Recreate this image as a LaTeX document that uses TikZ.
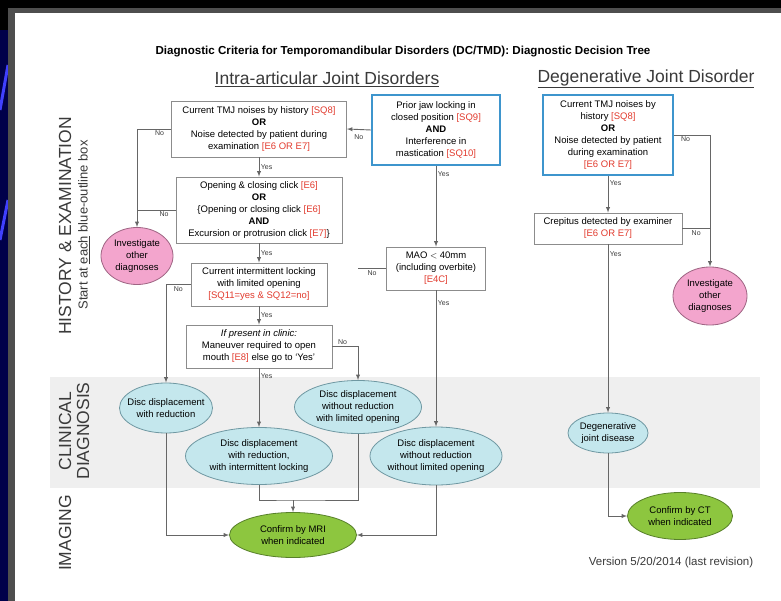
\documentclass[tikz,border=0pt]{standalone}
\usepackage{fontspec}
\setmainfont{Liberation Sans}
\usepackage{xcolor}
\usetikzlibrary{shapes.geometric, arrows}

\definecolor{boxgray}{HTML}{8C8C8C}
\definecolor{startblue}{HTML}{3E95CD}
\definecolor{diagfill}{HTML}{C4E7ED}
\definecolor{diagline}{HTML}{6F98A2}
\definecolor{pinkfill}{HTML}{F3A5CD}
\definecolor{pinkline}{HTML}{9E6483}
\definecolor{greenfill}{HTML}{8DC63F}
\definecolor{greenline}{HTML}{58802A}
\definecolor{bandgray}{HTML}{EFEFEF}
\definecolor{linegray}{HTML}{666666}
\definecolor{critred}{HTML}{E23B2E}
\definecolor{textgray}{HTML}{3A3A3A}
\definecolor{framegray}{HTML}{4E4E4E}
\definecolor{slidenavy}{HTML}{00004A}

\newcommand{\critref}[1]{\textcolor{critred}{[#1]}}

\tikzset{
	block/.style={draw=boxgray, line width=0.8pt, fill=white},
	startblock/.style={draw=startblue, line width=2.2pt, fill=white},
	diagnosis/.style={ellipse, draw=diagline, line width=0.8pt, fill=diagfill},
	otherdx/.style={ellipse, draw=pinkline, line width=0.8pt, fill=pinkfill},
	confirm/.style={ellipse, draw=greenline, line width=0.8pt, fill=greenfill},
	txt/.style={align=center, font=\fontsize{9.5}{12}\selectfont},
	answer/.style={font=\fontsize{7}{8}\selectfont, text=textgray, inner sep=1.5pt},
	heading/.style={font=\fontsize{17.5}{20}\selectfont, text=textgray},
	side/.style={rotate=90, font=\fontsize{17.5}{18}\selectfont, text=textgray, align=center},
	flow/.style={draw=linegray, line width=0.9pt, -latex},
	joinline/.style={draw=linegray, line width=0.9pt}
}

\begin{document}
\begin{tikzpicture}[x=1pt, y=-1pt]
		\useasboundingbox (0,0) rectangle (781,601);
		% slide around the diagram
		\fill[black] (0,0) rectangle (781,601);
		\fill[slidenavy] (0,30) rectangle (8,601);
		\begin{scope}
			\clip (0,30) rectangle (8,601);
			\draw[blue!75, line width=3pt] (0,110) -- (8,65);
			\draw[blue!75, line width=3pt] (0,240) -- (8,200);
		\end{scope}
		\fill[framegray] (8,8) rectangle (781,601);
		\fill[white] (15,13) rectangle (781,601);
		\fill[bandgray] (50,377) rectangle (760,488);
		
		\node[font=\bfseries\fontsize{11.6}{13}\selectfont] (title) at (403,52) {Diagnostic Criteria for Temporomandibular Disorders (DC/TMD): Diagnostic Decision Tree};
		\node[heading] (iajd) at (327,79) {\underline{Intra-articular Joint Disorders}};
		\node[heading] (djd) at (646,79) {\underline{Degenerative Joint Disorder}};
		
		\node[side] (histlbl) at (65,226) {HISTORY \& EXAMINATION};
		\node[side, font=\fontsize{13}{15}\selectfont] (startlbl) at (84,225) {Start at \underline{each} blue-outline box};
		\node[side] (cliniclbl) at (74,431) {CLINICAL\\DIAGNOSIS};
		\node[side] (imaginglbl) at (65,533) {IMAGING};
		
		% intra-articular joint disorders
		\node[block, minimum width=175, minimum height=56] (noise) at (259,129) {};
		\node[txt] (noise-t) at (noise) {Current TMJ noises by history \critref{SQ8}\\\textbf{OR}\\Noise detected by patient during\\examination \critref{E6 OR E7}};
		
		\node[startblock, minimum width=128, minimum height=70] (locking) at (436,130) {};
		\node[txt] (locking-t) at (locking) {Prior jaw locking in\\closed position \critref{SQ9}\\\textbf{AND}\\Interference in\\mastication \critref{SQ10}};
		
		\node[block, minimum width=166, minimum height=66] (click) at (259,210) {};
		\node[txt] (click-t) at (click) {Opening \& closing click \critref{E6}\\\textbf{OR}\\\{Opening or closing click \critref{E6}\\\textbf{AND}\\Excursion or protrusion click \critref{E7}\}};
		
		\node[otherdx, minimum width=72, minimum height=57] (invL) at (137,256) {};
		\node[txt] (invL-t) at (invL) {Investigate\\other\\diagnoses};
		
		\node[block, minimum width=136, minimum height=43] (intlock) at (259,284.5) {};
		\node[txt] (intlock-t) at (intlock) {Current intermittent locking\\with limited opening\\\critref{SQ11=yes \& SQ12=no}};
		
		\node[block, minimum width=99, minimum height=43] (mao) at (436,268.5) {};
		\node[txt] (mao-t) at (mao) {MAO $<$ 40mm\\(including overbite)\\\critref{E4C}};
		
		\node[block, minimum width=146, minimum height=43] (maneuver) at (259,346.5) {};
		\node[txt] (maneuver-t) at (maneuver) {\textit{If present in clinic:}\\Maneuver required to open\\mouth \critref{E8} else go to `Yes'};
		
		\node[diagnosis, minimum width=93, minimum height=50] (ddwr) at (166,408) {};
		\node[txt] (ddwr-t) at (ddwr) {Disc displacement\\with reduction};
		
		\node[diagnosis, minimum width=147, minimum height=57] (ddwril) at (259,456) {};
		\node[txt] (ddwril-t) at (ddwril) {Disc displacement\\with reduction,\\with intermittent locking};
		
		\node[diagnosis, minimum width=127, minimum height=53] (ddwolo) at (358,407) {};
		\node[txt] (ddwolo-t) at (ddwolo) {Disc displacement\\without reduction\\with limited opening};
		
		\node[diagnosis, minimum width=132, minimum height=58] (ddwonl) at (436,456) {};
		\node[txt] (ddwonl-t) at (ddwonl) {Disc displacement\\without reduction\\without limited opening};
		
		\node[confirm, minimum width=127, minimum height=45] (mri) at (293,535) {};
		\node[txt] (mri-t) at (mri) {Confirm by MRI\\when indicated};
		
		% degenerative joint disorder
		\node[startblock, minimum width=130, minimum height=80] (djdnoise) at (608,135) {};
		\node[txt] (djdnoise-t) at (djdnoise) {Current TMJ noises by\\history \critref{SQ8}\\\textbf{OR}\\Noise detected by patient\\during examination\\\critref{E6 OR E7}};
		
		\node[block, minimum width=148, minimum height=31] (crepitus) at (608,228.5) {};
		\node[txt] (crepitus-t) at (crepitus) {Crepitus detected by examiner\\\critref{E6 OR E7}};
		
		\node[otherdx, minimum width=74, minimum height=58] (invR) at (710,296) {};
		\node[txt] (invR-t) at (invR) {Investigate\\other\\diagnoses};
		
		\node[diagnosis, minimum width=80, minimum height=40] (djdisease) at (608,433) {};
		\node[txt] (djdisease-t) at (djdisease) {Degenerative\\joint disease};
		
		\node[confirm, minimum width=105, minimum height=47] (ct) at (680,516) {};
		\node[txt] (ct-t) at (ct) {Confirm by CT\\when indicated};
		
		\node[font=\fontsize{11.5}{13}\selectfont, text=textgray] (version) at (671,563) {Version 5/20/2014 (last revision)};
		
		\coordinate (merge) at (293,500);
		
		\draw[flow] (locking.west) -- (noise.east) node[answer, below=3pt, midway] {No};
		\draw[flow] (noise.west) -| (invL.north) node[answer, below, pos=0.17] {No};
		\draw[joinline] (click.west) -- (click.west -| invL.north) node[answer, below, pos=0.3] {No};
		\draw[flow] (noise.south) -- (click.north) node[answer, right, midway] {Yes};
		\draw[flow] (click.south) -- (intlock.north) node[answer, right, midway] {Yes};
		\draw[flow] (intlock.south) -- (maneuver.north) node[answer, right, midway] {Yes};
		\draw[flow] (intlock.west) -| (ddwr.north) node[answer, below, pos=0.25] {No};
		\draw[flow] (maneuver.south) -- (ddwril.north) node[answer, right, pos=0.13] {Yes};
		\draw[flow] (maneuver.east) -| (ddwolo.north) node[answer, above, pos=0.2] {No};
		\draw[flow] (locking.south) -- (mao.north) node[answer, right, pos=0.1] {Yes};
		\draw[joinline] (mao.west) -- (mao.west -| ddwolo.north) node[answer, below, midway] {No};
		\draw[flow] (mao.south) -- (ddwonl.north) node[answer, right, pos=0.09] {Yes};
		
		\draw[joinline] (ddwril.south) |- (merge) -| (ddwolo.south);
		\draw[flow] (merge) -- (mri.north);
		\draw[flow] (ddwr.south) |- (mri.west);
		\draw[flow] (ddwonl.south) |- (mri.east);
		
		\draw[flow] (djdnoise.south) -- (crepitus.north) node[answer, right, pos=0.2] {Yes};
		\draw[flow] (djdnoise.east) -| (invR.north) node[answer, below, pos=0.16] {No};
		\draw[joinline] (crepitus.east) -- (crepitus.east -| invR.north) node[answer, below, midway] {No};
		\draw[flow] (crepitus.south) -- (djdisease.north) node[answer, right, pos=0.06] {Yes};
		\draw[flow] (djdisease.south) |- (ct.west);
	\end{tikzpicture}
\end{document}
